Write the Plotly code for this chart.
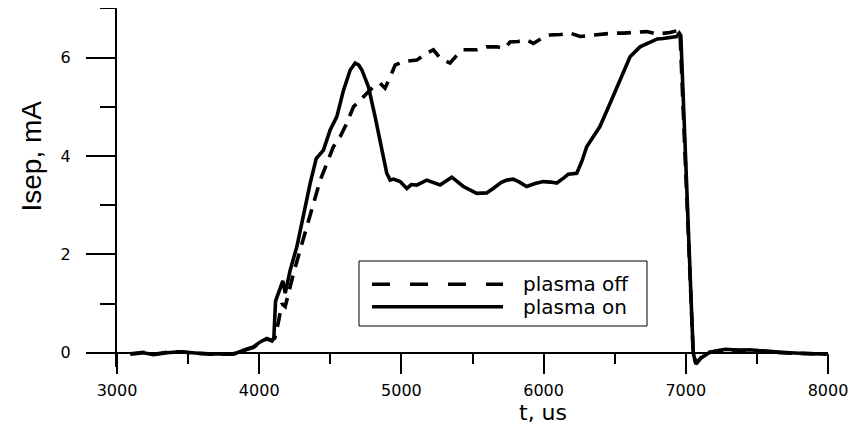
import plotly.graph_objects as go

# ---- data ----
t_off = [3094, 3190, 3260, 3350, 3445, 3540, 3650, 3730, 3820, 3890, 3960, 4007, 4054, 4089,
         4110, 4135, 4159, 4183, 4206, 4241, 4288, 4335, 4382, 4429, 4476, 4522, 4569, 4616,
         4663, 4710, 4757, 4803, 4850, 4885, 4921, 4956, 5014, 5060, 5108, 5178, 5225, 5272,
         5342, 5390, 5436, 5530, 5600, 5670, 5729, 5764, 5820, 5881, 5928, 5990, 6045, 6120,
         6186, 6257, 6320, 6373, 6430, 6490, 6560, 6640, 6725, 6795, 6888, 6947, 6959, 7052,
         7071, 7110, 7164, 7281, 7380, 7521, 7661, 7802, 7990]
i_off = [-0.02, 0.01, -0.03, 0.01, 0.02, -0.01, -0.02, -0.03, -0.02, 0.05, 0.11, 0.21, 0.28, 0.25,
         0.30, 0.62, 1.00, 0.94, 1.21, 1.61, 2.09, 2.56, 3.04, 3.51, 3.85, 4.19, 4.39, 4.67,
         5.00, 5.14, 5.28, 5.41, 5.48, 5.38, 5.61, 5.85, 5.92, 5.93, 5.95, 6.09, 6.16, 5.99,
         5.89, 6.05, 6.16, 6.16, 6.22, 6.22, 6.19, 6.32, 6.33, 6.36, 6.29, 6.40, 6.46, 6.47,
         6.50, 6.43, 6.45, 6.46, 6.48, 6.50, 6.50, 6.52, 6.53, 6.48, 6.51, 6.55, 6.53, 0.0,
         -0.22, -0.09, 0.01, 0.06, 0.05, 0.04, 0.0, -0.01, -0.03]

t_on = [3094, 3187, 3257, 3351, 3445, 3538, 3656, 3726, 3820, 3890, 3960, 4007, 4054, 4089,
        4103, 4115, 4148, 4166, 4183, 4218, 4265, 4312, 4358, 4401, 4452, 4499, 4546, 4593,
        4640, 4675, 4700, 4722, 4768, 4815, 4850, 4897, 4921, 4944, 4991, 5038, 5070, 5108,
        5178, 5230, 5272, 5354, 5400, 5436, 5530, 5600, 5650, 5700, 5741, 5787, 5830, 5881,
        5940, 5998, 6050, 6092, 6140, 6174, 6233, 6270, 6303, 6350, 6396, 6467, 6537, 6608,
        6678, 6748, 6800, 6841, 6900, 6935, 6954, 6965, 7052, 7071, 7110, 7164, 7220, 7281,
        7380, 7450, 7521, 7600, 7661, 7730, 7802, 7900, 7990]
i_on = [-0.03, 0.0, -0.04, 0.0, 0.02, -0.01, -0.03, -0.02, -0.03, 0.05, 0.12, 0.22, 0.29, 0.24,
        0.30, 1.05, 1.34, 1.46, 1.21, 1.68, 2.16, 2.83, 3.44, 3.95, 4.12, 4.53, 4.80, 5.34,
        5.75, 5.89, 5.85, 5.75, 5.41, 4.80, 4.33, 3.65, 3.51, 3.53, 3.48, 3.34, 3.42, 3.41,
        3.51, 3.45, 3.41, 3.57, 3.47, 3.38, 3.24, 3.25, 3.35, 3.46, 3.51, 3.53, 3.47, 3.38,
        3.44, 3.48, 3.47, 3.45, 3.55, 3.63, 3.65, 3.90, 4.19, 4.40, 4.60, 5.07, 5.55, 6.02,
        6.22, 6.32, 6.38, 6.39, 6.41, 6.43, 6.50, 6.45, 0.0, -0.23, -0.10, 0.0, 0.04, 0.07,
        0.05, 0.06, 0.04, 0.02, 0.0, 0.0, -0.01, -0.02, -0.03]

series_names = ["plasma off", "plasma on"]
x_title = "t, us"
y_title = "Isep, mA"

# ---- layout constants (the page body has an 8px margin) ----
OFF = 8
W, H = 863 - OFF, 426 - OFF
ML, MR, MT, MB = 109, 35, 0, 59
X_RANGE = [3000, 8000]
Y_RANGE = [-0.29, 7.01]
PW, PH = W - ML - MR, H - MT - MB


def px(xp):
    """window pixel x -> paper fraction"""
    return (xp - OFF - ML) / PW


def py(yp):
    """window pixel y -> paper fraction"""
    return (H - MB - (yp - OFF)) / PH


fig = go.Figure()
fig.add_trace(go.Scatter(x=t_on, y=i_on, mode="lines", name=series_names[1],
                         line=dict(color="black", width=3.6), showlegend=False))
fig.add_trace(go.Scatter(x=t_off, y=i_off, mode="lines", name=series_names[0],
                         line=dict(color="black", width=3.6, dash="14px,9px"), showlegend=False))

x_axis_pos = (0 - Y_RANGE[0]) / (Y_RANGE[1] - Y_RANGE[0])

fig.update_layout(
    width=W, height=H,
    margin=dict(l=ML, r=MR, t=MT, b=MB, autoexpand=False),
    paper_bgcolor="white", plot_bgcolor="white",
    showlegend=False,
    xaxis=dict(range=X_RANGE, anchor="free", position=x_axis_pos,
               showline=True, linecolor="black", linewidth=2,
               ticks="outside", ticklen=20, tickwidth=2, tickcolor="black",
               tick0=3000, dtick=1000, showgrid=False, zeroline=False,
               minor=dict(ticks="outside", ticklen=10, tickwidth=2, tickcolor="black", dtick=500),
               tickfont=dict(family="DejaVu Sans", size=16, color="black"),
               ticklabelstandoff=3, automargin=False),
    yaxis=dict(range=Y_RANGE, showline=True, linecolor="black", linewidth=2,
               ticks="outside", ticklen=29, tickwidth=2, tickcolor="black",
               tick0=0, dtick=2, showgrid=False, zeroline=False,
               minor=dict(ticks="outside", ticklen=15, tickwidth=2, tickcolor="black", dtick=1),
               tickfont=dict(family="DejaVu Sans", size=16, color="black"),
               ticklabelstandoff=12, automargin=False),
)

# axis titles
fig.add_annotation(text=y_title, xref="paper", yref="paper", x=px(30.5), y=py(156),
                   xanchor="center", yanchor="middle", textangle=-90, showarrow=False,
                   font=dict(family="Liberation Sans Narrow, Liberation Sans, Arial", size=28, color="black"))
fig.add_annotation(text=x_title, xref="paper", yref="paper", x=px(543), y=py(426),
                   xanchor="center", yanchor="bottom", showarrow=False, borderpad=0,
                   font=dict(family="DejaVu Sans", size=22, color="black"))

# legend box drawn to match the reference layout
fig.add_shape(type="rect", xref="paper", yref="paper", x0=px(359), x1=px(647), y0=py(326), y1=py(261),
              line=dict(color="black", width=1), fillcolor="white", layer="above")
for k, (yy, dash) in enumerate([(284.3, "18px,20px"), (306.7, "solid")]):
    fig.add_shape(type="line", xref="paper", yref="paper", x0=px(372), x1=px(503), y0=py(yy), y1=py(yy),
                  line=dict(color="black", width=3.6, dash=dash), layer="above")
    fig.add_annotation(text=series_names[k], xref="paper", yref="paper", x=px(521), y=py(yy),
                       xanchor="left", yanchor="middle", showarrow=False,
                       font=dict(family="DejaVu Sans", size=20, color="black"))

fig.write_html("out.html")
